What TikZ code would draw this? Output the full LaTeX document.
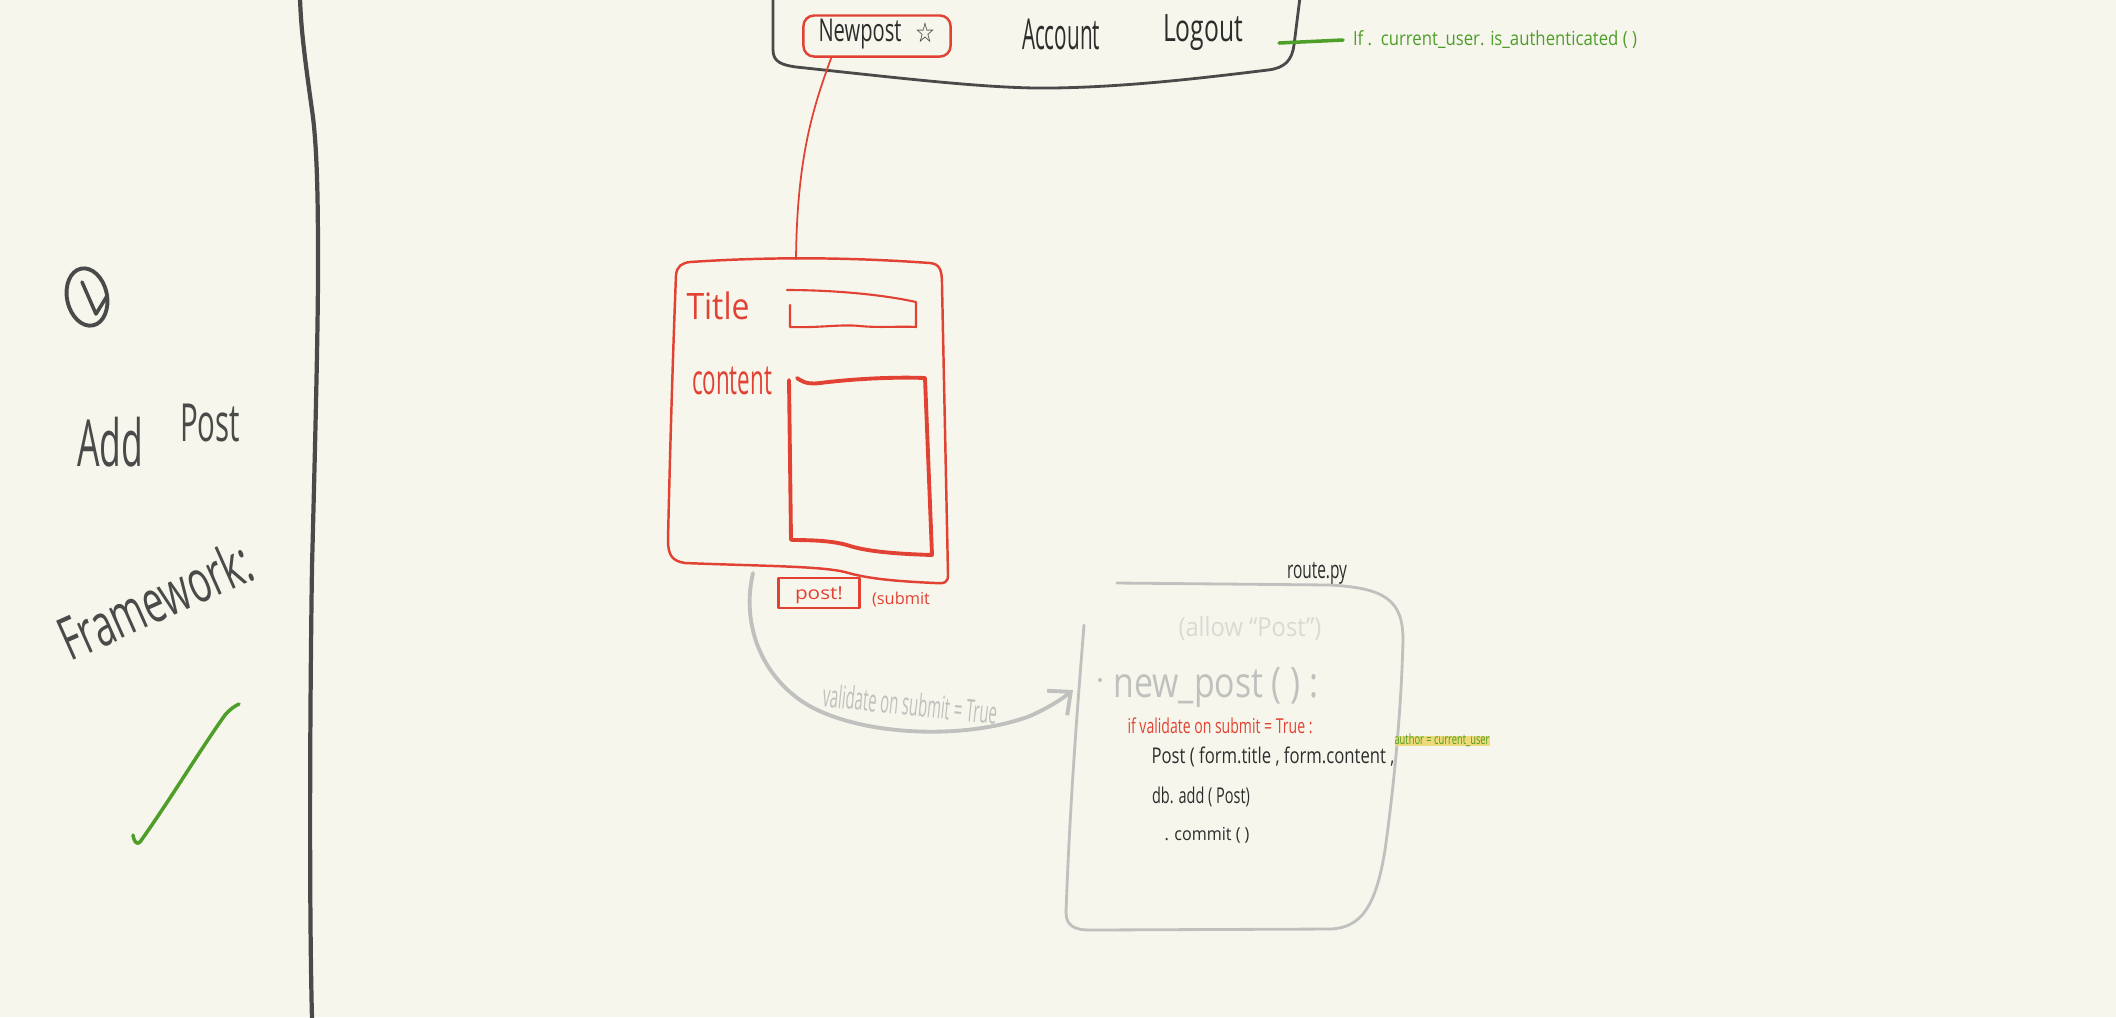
\documentclass[tikz,border=0pt]{standalone}
\usepackage{fontspec}
\setmainfont{Open Sans}
\newfontfamily\djv{DejaVu Sans}
\usetikzlibrary{arrows.meta}
\definecolor{bg}{RGB}{246,246,236}
\definecolor{dk}{RGB}{74,74,74}
\definecolor{ink}{RGB}{45,45,45}
\definecolor{rd}{RGB}{226,66,52}
\definecolor{gn}{RGB}{78,158,42}
\definecolor{gy}{RGB}{192,192,190}
\definecolor{lgy}{RGB}{218,218,212}
\definecolor{hl}{RGB}{238,218,120}
\newlength\pxu \setlength\pxu{0.01cm}
\newcommand\fitbox[3]{\resizebox*{#1\pxu}{#2\pxu}{#3}}
\begin{document}
\begin{tikzpicture}[x=0.01cm,y=-0.01cm, line cap=round, line join=round,
  txt/.style={inner sep=0pt, outer sep=0pt},
  dkline/.style={draw=dk, line width=0.8pt},
  redline/.style={draw=rd, line width=0.7pt},
  thickred/.style={draw=rd, line width=1.1pt},
  grayline/.style={draw=gy, line width=0.8pt}]
\useasboundingbox (0,0) rectangle (2116,1017);
\fill[bg] (0,0) rectangle (2116,1017);

% divider
\draw[dk, line width=1.2pt] (300,-2) .. controls (301,30) and (305,60) .. (312,110) .. controls (318,150) and (318,220) .. (318,270) .. controls (318,330) and (315,450) .. (312,567) .. controls (310,700) and (309,900) .. (312,1019);

% left column
\draw[dk, line width=1.1pt, rotate around={12:(87,297)}] (87,297) ellipse [x radius=20, y radius=29];
\draw[dk, line width=1pt] (82,282) -- (96,314) -- (107,296);
\node[txt, text=dk] (add) at (110,442) {\fitbox{66}{50}{Add}};
\node[txt, text=dk] (postL) at (210,423) {\fitbox{60}{38}{Post}};
\node[txt, text=dk, rotate=24] (framework) at (155,600) {\fitbox{205}{46}{Framework:}};
\draw[gn, line width=1pt] (133,835) .. controls (134,842) and (137,845) .. (140,842) .. controls (170,800) and (200,750) .. (225,715) .. controls (230,709) and (235,706) .. (239,704);

% nav bar
\draw[dkline] (773,-3) -- (773,50) .. controls (773,62) and (782,65) .. (796,67) .. controls (900,78) and (990,89) .. (1052,88) .. controls (1130,87) and (1210,77) .. (1268,70) .. controls (1285,68) and (1292,60) .. (1294,45) -- (1300,-3);
\coordinate (navR) at (1279,43);
\node[draw=rd, line width=0.7pt, rounded corners=3pt, minimum width=1.47cm, minimum height=0.41cm, inner sep=0pt] (newpost) at (877,36) {};
\node[txt, text=ink] (nptxt) at (860,34) {\fitbox{83}{30}{Newpost}};
\node[txt, text=ink] (star) at (925,33) {\fitbox{20}{20}{\djv ☆}};
\node[txt, text=ink] (account) at (1061,34) {\fitbox{78}{31}{Account}};
\node[txt, text=ink] (logout) at (1203,33) {\fitbox{80}{36}{Logout}};
\node[txt, text=gn] (authq) at (1495,40) {\fitbox{284}{18}{If .\ \ current\_user. is\_authenticated ( )}};
\draw[gn, line width=1pt] (navR) -- ([xshift=-0.1cm]authq.west);

% red connector
\coordinate (formTop) at (796,259);
\draw[rd, line width=0.5pt] ([xshift=0.29cm]newpost.south west) .. controls (812,110) and (797,160) .. (formTop);

% form
\draw[redline] (690,262) .. controls (780,256) and (860,258) .. (930,263) .. controls (940,264) and (942,270) .. (942,285) -- (948,575) .. controls (948,582) and (945,584) .. (935,583) .. controls (890,581) and (865,578) .. (845,572) .. controls (820,566) and (760,566) .. (685,563) .. controls (672,561) and (668,555) .. (668,540) .. controls (670,450) and (673,350) .. (676,275) .. controls (677,266) and (682,263) .. (690,262) -- cycle;
\node[txt, text=rd] (titletxt) at (718,306) {\fitbox{63}{28}{Title}};
\draw[redline, line width=0.6pt] (790,305) -- (790,327) .. controls (820,328) and (840,324) .. (860,326) .. controls (880,328) and (900,326) .. (916,327) -- (916,302) .. controls (880,294) and (830,290) .. (787,290);
\node[txt, text=rd] (contenttxt) at (732,381) {\fitbox{80}{28}{content}};
\draw[thickred] (789,380) -- (791,540);
\draw[thickred] (797,378) .. controls (805,384) and (812,384) .. (820,383) .. controls (860,378) and (900,377) .. (925,378) -- (932,555) .. controls (900,554) and (870,552) .. (850,546) .. controls (835,541) and (815,540) .. (792,540);
\node[draw=rd, line width=0.6pt, inner sep=0pt, minimum width=0.81cm, minimum height=0.3cm] (postbtn) at (819,593) {};
\node[txt, text=rd] (posttxt) at (819,595) {\fitbox{48}{17}{post!}};
\node[txt, text=rd] (submittxt) at (901,600) {\fitbox{58}{15}{(submit}};

% arrow
\coordinate (arrS) at (753,573);
\coordinate (arrE) at (1073,690);
\draw[gy, line width=1.1pt, -{Straight Barb[length=5pt,width=9pt]}] (arrS) .. controls (742,620) and (758,670) .. (800,700) .. controls (850,735) and (960,742) .. (1030,716) .. controls (1048,708) and (1062,699) .. (arrE);
\node[txt, text=gy, rotate=-6] (valtxt) at (910,704) {\fitbox{175}{24}{validate on submit = True}};

% route box
\draw[grayline] (1117,583) -- (1330,585) .. controls (1385,588) and (1403,600) .. (1403,640) .. controls (1401,720) and (1392,800) .. (1385,850) .. controls (1376,905) and (1362,928) .. (1330,929) -- (1090,930) .. controls (1072,930) and (1066,924) .. (1066,912) .. controls (1070,800) and (1078,700) .. (1084,625);
\node[txt, text=ink] (routepy) at (1317,573) {\fitbox{60}{22}{route.py}};
\node[txt, text=lgy] (allow) at (1250,629) {\fitbox{143}{24}{(allow “Post”)}};
\fill[gy] (1100,680) circle [radius=2];
\node[txt, text=gy] (newpostfn) at (1216,688) {\fitbox{205}{40}{new\_post ( ) :}};
\node[txt, text=rd] (iftxt) at (1220,726) {\fitbox{185}{16}{if validate on submit = True :}};
\fill[hl] (1395,736) rectangle (1490,746);
\node[txt, text=ink] (posttxt2) at (1273,757) {\fitbox{243}{20}{Post ( form.title , form.content ,}};
\node[txt, text=gn] (authortxt) at (1442,740) {\fitbox{95}{13}{author = current\_user}};
\node[txt, text=ink] (dbadd) at (1201,797) {\fitbox{98}{20}{db. add ( Post)}};
\node[txt, text=ink] (commit) at (1207,835) {\fitbox{85}{16}{. commit ( )}};
\end{tikzpicture}
\end{document}
